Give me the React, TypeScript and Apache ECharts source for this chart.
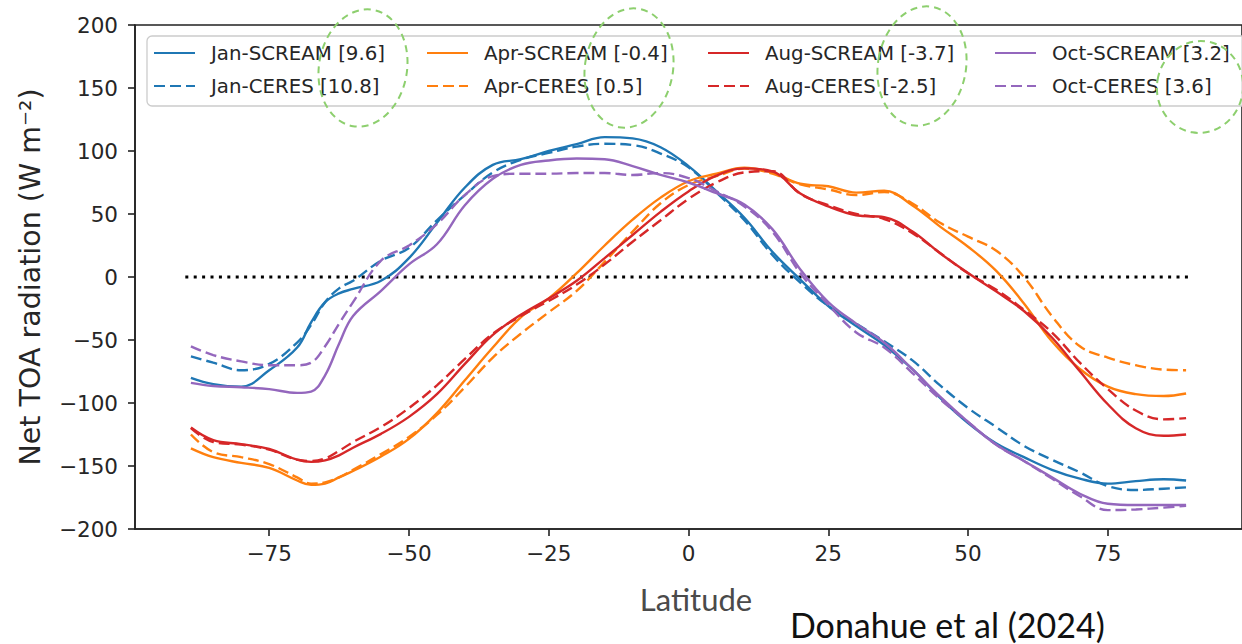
import React, { useEffect, useRef } from "react";
import * as echarts from "echarts";

const latitudes = [-89, -85, -80, -75, -70, -67.5, -65, -62.5, -60, -55, -50, -45, -40, -35, -30, -25, -20, -15, -10, -5, 0, 5, 10, 15, 20, 25, 30, 35, 40, 45, 50, 55, 60, 65, 70, 75, 80, 85, 89];

const janScream = [-80, -85, -87, -74, -56, -36, -20, -13, -9.5, -3, 15, 43, 71, 89, 93.5, 100, 105.5, 111, 110, 103, 88, 68, 47, 20, -2, -23, -39, -54, -73, -96, -116, -132, -143, -153, -160, -164, -162, -160.5, -161.5];
const janCeres = [-63, -68, -74, -69, -52, -38, -20, -9, -3, 13, 23, 45, 65, 83, 93, 98.5, 103.5, 105.7, 104.7, 98, 87, 67, 45, 17.5, -4.5, -23, -37, -51, -66, -86, -104, -119, -134, -145, -155, -166, -169, -168, -167];
const aprScream = [-136, -143, -147.5, -151.5, -161.5, -165, -164, -159, -154, -142.5, -128.5, -108, -82, -56, -32, -17, 3, 25, 45.5, 63, 76, 82, 86.7, 82.8, 74, 72, 67, 68.5, 57, 40, 24, 5, -21, -51, -73, -87, -93, -94.5, -92.5];
const aprCeres = [-125, -139, -143, -148.5, -159, -164, -163, -159, -153, -140.6, -127, -109.5, -87.5, -64, -45, -28, -11, 12, 36, 58.5, 73, 80, 86, 82, 73.5, 69.5, 65, 67.5, 58.5, 43, 32, 21, 0, -31, -55, -64, -70, -73.5, -74];
const augScream = [-119.5, -129.5, -132.6, -136.5, -145, -146.7, -145.5, -141.5, -135.5, -124.5, -111, -93, -69, -46, -30, -17, -3, 15, 33.3, 51.7, 67.9, 80.5, 86.2, 83.8, 66.3, 56, 49, 47.4, 36.3, 18.8, 3.2, -11.4, -27, -48, -74.8, -101, -120, -126, -125];
const augCeres = [-120, -131, -133, -137, -145, -146, -144, -138, -131, -119, -104, -86, -65, -45, -31, -19, -6, 10, 28, 45, 62, 75, 83, 84, 66, 57, 50, 46, 35, 19, 3, -10, -26, -44, -68, -89, -106, -113, -112];
const octScream = [-84, -86.5, -87.5, -89, -92, -91, -78, -53, -31, -11, 10, 26, 57, 78, 89, 92.5, 94, 93.5, 88, 81, 75, 66.5, 57.5, 38, 6, -20, -37, -52, -73, -95, -115, -133, -146, -159, -172, -180, -181, -181, -181];
const octCeres = [-55, -62, -67, -70, -70, -68, -55, -37, -20, 13, 25, 42, 65, 80, 82, 82, 82.5, 82.5, 81, 82.5, 78.5, 68, 56, 36, 3, -22, -44, -56, -76, -97, -115, -133, -146, -160, -174, -185, -184.5, -183, -181.5];

const months = ["Jan", "Apr", "Aug", "Oct"];
const screamMeans = ["9.6", "-0.4", "-3.7", "3.2"];
const ceresMeans = ["10.8", "0.5", "-2.5", "3.6"];
const monthColors = ["#1f77b4", "#ff7f0e", "#d62728", "#9467bd"];
const screamValues = [janScream, aprScream, augScream, octScream];
const ceresValues = [janCeres, aprCeres, augCeres, octCeres];

const xTicks = [-75, -50, -25, 0, 25, 50, 75];
const zeroLine = [[-90, 0], [90, 0]];

const legendLeft = [153, 426, 707, 994];
const ellipses = [
  { cx: 363, cy: 68, rx: 44, ry: 59 },
  { cx: 629, cy: 68, rx: 44, ry: 60 },
  { cx: 922, cy: 66, rx: 44, ry: 60 },
  { cx: 1200, cy: 87, rx: 43, ry: 46 },
];

const minus = (v: number) => (v < 0 ? "\u2212" + Math.abs(v) : String(v));

export default function App() {
  const ref = useRef<HTMLDivElement>(null);
  useEffect(() => {
    const chart = echarts.init(ref.current!, null, { renderer: "svg" });
    const font = "DejaVu Sans";
    const series: any[] = [];
    months.forEach((m, i) => {
      const mk = (vals: number[]) => latitudes.map((x, j) => [x, vals[j]]);
      series.push({
        name: `${m}-SCREAM [${screamMeans[i]}]`,
        type: "line",
        data: mk(screamValues[i]),
        symbol: "none",
        smooth: 0.4,
        color: monthColors[i],
        lineStyle: { color: monthColors[i], width: 2.4, type: "solid" },
        z: 3,
      });
      series.push({
        name: `${m}-CERES [${ceresMeans[i]}]`,
        type: "line",
        data: mk(ceresValues[i]),
        symbol: "none",
        smooth: 0.4,
        color: monthColors[i],
        lineStyle: { color: monthColors[i], width: 2.4, type: [11, 5] },
        z: 3,
      });
    });
    series.push({
      name: "zero",
      type: "line",
      data: zeroLine,
      symbol: "none",
      silent: true,
      lineStyle: { color: "#000", width: 3, type: [3, 5.4] },
      z: 2,
    });

    const legends = months.map((m, i) => ({
      orient: "vertical",
      left: legendLeft[i],
      top: 42,
      padding: 0,
      itemWidth: 41,
      itemHeight: 14,
      itemGap: 11,
      selectedMode: false,
      itemStyle: { opacity: 0 },
      data: [`${m}-SCREAM [${screamMeans[i]}]`, `${m}-CERES [${ceresMeans[i]}]`],
      textStyle: {
        fontFamily: font,
        fontSize: 19.8,
        color: "#262626",
        lineHeight: 22,
        padding: [0, 0, 0, 11],
      },
      z: 10,
    }));

    const option: any = {
      animation: false,
      backgroundColor: "#ffffff",
      textStyle: { fontFamily: font },
      grid: {
        left: 135,
        top: 25,
        width: 1117,
        height: 504,
        show: true,
        borderColor: "#222",
        borderWidth: 1.6,
        backgroundColor: "transparent",
      },
      xAxis: {
        type: "value",
        min: -99,
        max: 99,
        name: "Latitude",
        nameLocation: "middle",
        nameGap: 54,
        nameTextStyle: { fontFamily: "Lato", fontSize: 31, color: "#4a4a4a", padding: [0, 0, 0, 15] },
        axisLine: { show: true, onZero: false, lineStyle: { color: "#222", width: 1.6 } },
        axisTick: { show: true, length: 7, customValues: xTicks, lineStyle: { color: "#222", width: 1.6 } },
        axisLabel: { customValues: xTicks, fontSize: 21.5, color: "#262626", margin: 13, formatter: (v: number) => minus(v) },
        splitLine: { show: false },
      },
      yAxis: {
        type: "value",
        min: -200,
        max: 200,
        interval: 50,
        name: "Net TOA radiation (W m\u207B\u00B2)",
        nameLocation: "middle",
        nameRotate: 90,
        nameGap: 90,
        nameTextStyle: { fontFamily: font, fontSize: 28.5, color: "#262626" },
        axisLine: { show: true, onZero: false, lineStyle: { color: "#222", width: 1.6 } },
        axisTick: { show: true, length: 7, lineStyle: { color: "#222", width: 1.6 } },
        axisLabel: { fontSize: 21.5, color: "#262626", margin: 17, formatter: (v: number) => minus(v) },
        splitLine: { show: false },
      },
      legend: legends,
      series,
      graphic: [
        {
          type: "rect",
          z: 5,
          shape: { x: 147, y: 36, width: 1110, height: 70, r: 5 },
          style: { fill: "rgba(255,255,255,0.85)", stroke: "#cccccc", lineWidth: 1.3 },
        },
        ...ellipses.map((e) => ({
          type: "ellipse",
          z: 50,
          x: e.cx,
          y: e.cy,
          rotation: -0.17,
          shape: { cx: 0, cy: 0, rx: e.rx, ry: e.ry },
          style: { fill: "none", stroke: "#8dcf6e", lineWidth: 2, lineDash: [7, 5] },
        })),
        {
          type: "text",
          z: 50,
          style: {
            text: "Donahue et al (2024)",
            x: 790,
            y: 624,
            verticalAlign: "middle",
            align: "left",
            fontFamily: "Lato",
            fontSize: 34,
            fill: "#111",
          },
        },
      ],
    };
    chart.setOption(option);
    return () => chart.dispose();
  }, []);
  return (
    <div
      ref={ref}
      style={{ position: "fixed", left: 0, top: 0, width: 1242, height: 644, background: "#fff" }}
    />
  );
}
